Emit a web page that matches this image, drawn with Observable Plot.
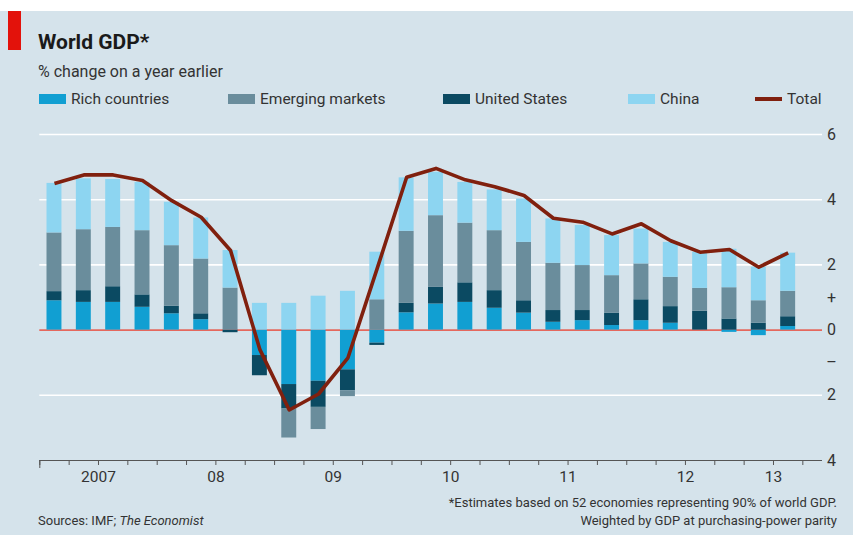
<!DOCTYPE html>
<html>
<head>
<meta charset="utf-8">
<script src="https://cdn.jsdelivr.net/npm/d3@7"></script>
<script src="https://cdn.jsdelivr.net/npm/@observablehq/plot@0.6"></script>
<style>
  html, body { margin: 0; padding: 0; background: #ffffff; }
  #wrap { position: relative; width: 853px; height: 535px; overflow: hidden; font-family: Roboto, "Noto Sans", sans-serif; }
  #panel { position: absolute; left: 0; top: 11px; width: 853px; height: 524px; background: #d5e3eb; }
  #redbar { position: absolute; left: 8px; top: 11px; width: 13px; height: 39px; background: #e3120b; }
  .txt { position: absolute; white-space: nowrap; }
  #title { left: 38px; top: 32px; font-size: 21px; line-height: 21px; font-weight: 700; color: #1a1a1a; }
  #subtitle { left: 38px; top: 64px; font-size: 16px; line-height: 16px; color: #333; }
  #legend { position: absolute; left: 0; top: 0; }
  .lg { position: absolute; top: 91px; height: 16px; font-size: 15.5px; line-height: 16px; color: #333; white-space: nowrap; }
  .sw { position: absolute; left: 0; top: 3px; width: 27px; height: 10px; }
  .lgt { position: absolute; left: 32px; top: 0; }
  #foot1 { right: 16px; top: 496px; font-size: 13px; line-height: 13px; color: #333; }
  #foot2 { right: 16px; top: 514px; font-size: 13px; line-height: 13px; color: #333; }
  #source { left: 38px; top: 514px; font-size: 13px; line-height: 13px; color: #333; }
  #chart { position: absolute; left: 0; top: 120px; }
</style>
</head>
<body>
<div id="wrap">
  <div id="panel"></div>
  <div id="redbar"></div>
  <div class="txt" id="title">World GDP*</div>
  <div class="txt" id="subtitle">% change on a year earlier</div>
  <div id="legend"></div>
  <div class="txt" id="foot1">*Estimates based on 52 economies representing 90% of world GDP.</div>
  <div class="txt" id="foot2">Weighted by GDP at purchasing-power parity</div>
  <div class="txt" id="source">Sources: IMF; <i>The Economist</i></div>
  <div id="chart"></div>
</div>
<script>
// ---- Data (quarterly, % change on a year earlier) ----
const quarters = [
  "2007Q1","2007Q2","2007Q3","2007Q4",
  "2008Q1","2008Q2","2008Q3","2008Q4",
  "2009Q1","2009Q2","2009Q3","2009Q4",
  "2010Q1","2010Q2","2010Q3","2010Q4",
  "2011Q1","2011Q2","2011Q3","2011Q4",
  "2012Q1","2012Q2","2012Q3","2012Q4",
  "2013Q1","2013Q2"
];
const richCountries = [0.90, 0.85, 0.85, 0.70, 0.50, 0.32, 0.00, -0.78, -1.67, -1.57, -1.22, -0.40,
                       0.53, 0.80, 0.85, 0.67, 0.52, 0.24, 0.29, 0.14, 0.29, 0.21, 0.00, -0.07, -0.17, 0.11];
const unitedStates  = [0.28, 0.36, 0.48, 0.38, 0.23, 0.18, -0.08, -0.62, -0.75, -0.80, -0.64, -0.07,
                       0.29, 0.51, 0.60, 0.54, 0.38, 0.36, 0.31, 0.38, 0.64, 0.51, 0.58, 0.34, 0.21, 0.30];
const emergingMarkets = [1.80, 1.87, 1.82, 1.97, 1.86, 1.68, 1.29, 0.00, -0.89, -0.68, -0.18, 0.93,
                         2.21, 2.20, 1.83, 1.84, 1.79, 1.45, 1.38, 1.15, 1.10, 0.90, 0.70, 0.96, 0.69, 0.78];
const china = [1.52, 1.56, 1.47, 1.48, 1.33, 1.26, 1.15, 0.82, 0.82, 1.04, 1.19, 1.46,
               1.64, 1.33, 1.25, 1.25, 1.33, 1.36, 1.23, 1.23, 1.07, 1.07, 1.11, 1.18, 1.03, 1.17];
const total = [4.50, 4.76, 4.76, 4.59, 3.97, 3.46, 2.44, -0.60, -2.45, -1.96, -0.85, 1.90,
               4.69, 4.96, 4.61, 4.40, 4.13, 3.43, 3.31, 2.95, 3.26, 2.74, 2.39, 2.47, 1.93, 2.37];

const seriesNames = ["Rich countries", "United States", "Emerging markets", "China"];
const seriesValues = [richCountries, unitedStates, emergingMarkets, china];
const seriesColors = ["#119fd2", "#0b4a62", "#6a8d9c", "#8dd5f1"];
const totalName = "Total";
const totalColor = "#80200e";
const legendOrder = ["Rich countries", "Emerging markets", "United States", "China", "Total"];

const yearLabels = ["2007", "08", "09", "10", "11", "12", "13"];
const gridValues = [6, 4, 2, -2];
const yTickValues = [6, 4, 2, 1, 0, -1, -2, -4];
const yTickLabels = ["6", "4", "2", "+", "0", "\u2013", "2", "4"];

// ---- Derived tables ----
const barData = [];
seriesNames.forEach((s, si) => {
  quarters.forEach((q, i) => barData.push({i, quarter: q, series: s, value: seriesValues[si][i]}));
});
const lineData = quarters.map((q, i) => ({i, quarter: q, value: total[i]}));
const years = Array.from(new Set(quarters.map(q => q.slice(0, 4))));
const yearPos = years.map((y, k) => {
  const idx = quarters.map((q, i) => [q, i]).filter(([q]) => q.startsWith(y)).map(([, i]) => i);
  return {label: yearLabels[k], x: d3.mean(idx) + 0.5};
});

// ---- Legend ----
const legendLeft = [39, 228, 443, 628, 755];
const legend = document.getElementById("legend");
legendOrder.forEach((name, k) => {
  const item = document.createElement("div");
  item.className = "lg";
  item.style.left = legendLeft[k] + "px";
  const sw = document.createElement("div");
  sw.className = "sw";
  if (name === totalName) {
    sw.style.background = totalColor;
    sw.style.height = "4px";
    sw.style.top = "6px";
  } else {
    sw.style.background = seriesColors[seriesNames.indexOf(name)];
  }
  const t = document.createElement("div");
  t.className = "lgt";
  t.textContent = name;
  item.appendChild(sw);
  item.appendChild(t);
  legend.appendChild(item);
});

// ---- Chart ----
const chart = Plot.plot({
  width: 853,
  height: 380,
  marginLeft: 39.3,
  marginRight: 31,
  marginTop: 14,
  marginBottom: 40,
  style: {background: "transparent", color: "#555", fontFamily: "Roboto, 'Noto Sans', sans-serif", overflow: "visible"},
  x: {domain: [0, quarters.length + 0.67], ticks: d3.range(0, quarters.length + 1), tickSize: 5, tickFormat: () => "", label: null},
  y: {domain: [-4, 6], axis: null},
  color: {domain: seriesNames, range: seriesColors},
  marks: [
    Plot.ruleY(gridValues, {stroke: "#ffffff", strokeWidth: 1.6}),
    Plot.ruleY([0], {stroke: "#e5685d", strokeWidth: 1.6}),
    Plot.rectY(barData, {x1: d => d.i, x2: d => d.i + 1, y: "value", fill: "series", insetLeft: 7.2, insetRight: 7.2}),
    Plot.ruleY([-4], {stroke: "#555", strokeWidth: 1}),
    Plot.ruleX([0], {y1: -4, y2: -4, insetBottom: -8, stroke: "#555", strokeWidth: 1}),
    Plot.line(lineData, {x: d => d.i + 0.5, y: "value", stroke: totalColor, strokeWidth: 3.6, strokeLinejoin: "round", strokeLinecap: "butt"}),
    Plot.text(yTickValues, {y: d => d, text: (d, i) => yTickLabels[i], frameAnchor: "right", dx: 9, textAnchor: "middle", fontSize: 16, fill: "#333"}),
    Plot.text(yearPos, {x: "x", text: "label", frameAnchor: "bottom", dy: 21, textAnchor: "middle", fontSize: 15.5, fill: "#333"})
  ]
});
document.getElementById("chart").appendChild(chart);
</script>
</body>
</html>
